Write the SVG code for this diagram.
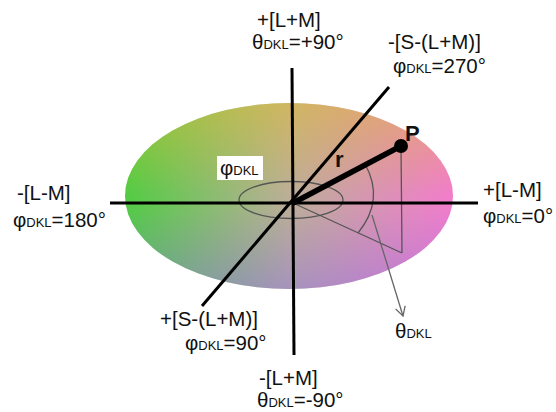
<svg xmlns="http://www.w3.org/2000/svg" width="556" height="412" viewBox="0 0 556 412">
<defs>
<linearGradient id="gh" x1="0" y1="0" x2="1" y2="0">
<stop offset="0" stop-color="#52cc44"/>
<stop offset="0.5" stop-color="#bcae98"/>
<stop offset="1" stop-color="#f27ccc"/>
</linearGradient>
<linearGradient id="gv" x1="0" y1="0" x2="0" y2="1">
<stop offset="0" stop-color="#e8c020" stop-opacity="0.45"/>
<stop offset="0.5" stop-color="#e8c020" stop-opacity="0"/>
<stop offset="0.55" stop-color="#8060ff" stop-opacity="0"/>
<stop offset="1" stop-color="#8060ff" stop-opacity="0.35"/>
</linearGradient>
<marker id="ah" markerWidth="12" markerHeight="12" refX="10" refY="6" orient="auto" markerUnits="userSpaceOnUse">
<path d="M1,1 L10,6 L1,11" fill="none" stroke="#666" stroke-width="1.3"/>
</marker>
<style>
.t{font-family:"Liberation Sans",Arial,sans-serif;font-size:20.5px;fill:#111}
.s{font-size:13px}
.b{font-size:22px;font-weight:bold}
.ax{stroke:#000;stroke-width:3;fill:none}
.th{stroke:#555;stroke-width:1.3;fill:none}
</style>
</defs>
<g id="plane">
<ellipse cx="289" cy="196" rx="164" ry="93" fill="url(#gh)"/>
<ellipse cx="289" cy="196" rx="164" ry="93" fill="url(#gv)"/>
</g>
<g id="connectors">
<ellipse class="th" cx="291" cy="200" rx="52" ry="18.5"/>
<line class="th" x1="401" y1="146" x2="402" y2="253"/>
<line class="th" x1="293" y1="203" x2="402" y2="253"/>
<path class="th" d="M365,164 Q385,200 358,233"/>
<line x1="372" y1="215" x2="403" y2="316" stroke="#666" stroke-width="1.3" marker-end="url(#ah)"/>
<line class="ax" x1="110" y1="203" x2="478" y2="203"/>
<line class="ax" x1="292" y1="68" x2="294" y2="355"/>
<line class="ax" x1="389" y1="87" x2="202" y2="306"/>
<line x1="293" y1="203" x2="401" y2="146" stroke="#000" stroke-width="5.5"/>
</g>
<g id="P">
<circle cx="401" cy="146" r="7" fill="#000"/>
<text class="t b" x="405" y="141">P</text>
</g>
<g id="r"><text class="t b" x="335" y="167">r</text></g>
<g id="phi-label">
<rect x="217" y="156" width="46" height="24" fill="#fff"/>
<text class="t" x="220" y="175">φ<tspan class="s">DKL</tspan></text>
</g>
<g id="top"><text class="t" x="257" y="27">+[L+M]</text><text class="t" x="252" y="49">θ<tspan class="s">DKL</tspan>=+90°</text></g>
<g id="upright"><text class="t" x="388" y="49">-[S-(L+M)]</text><text class="t" x="393" y="73">φ<tspan class="s">DKL</tspan>=270°</text></g>
<g id="left"><text class="t" x="17" y="200">-[L-M]</text><text class="t" x="13" y="227">φ<tspan class="s">DKL</tspan>=180°</text></g>
<g id="right"><text class="t" x="483" y="197">+[L-M]</text><text class="t" x="483" y="223">φ<tspan class="s">DKL</tspan>=0°</text></g>
<g id="lowleft"><text class="t" x="160" y="326">+[S-(L+M)]</text><text class="t" x="185" y="350">φ<tspan class="s">DKL</tspan>=90°</text></g>
<g id="bottom"><text class="t" x="259" y="385">-[L+M]</text><text class="t" x="257" y="407">θ<tspan class="s">DKL</tspan>=-90°</text></g>
<g id="theta-label"><text class="t" x="395" y="338">θ<tspan class="s">DKL</tspan></text></g>
</svg>
